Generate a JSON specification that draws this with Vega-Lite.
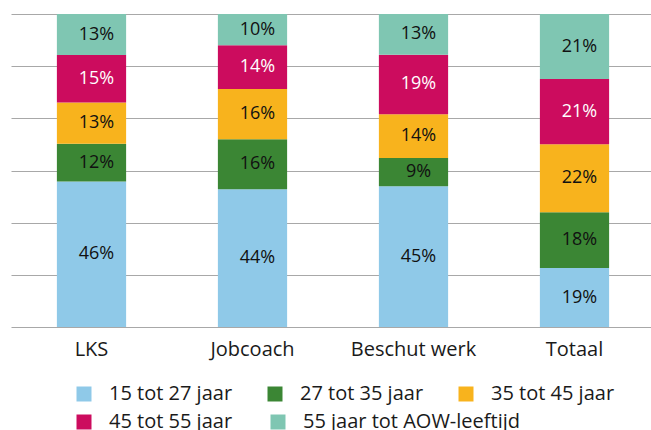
{
  "$schema": "https://vega.github.io/schema/vega-lite/v6.json",
  "width": 644,
  "height": 313,
  "autosize": {"type": "none"},
  "padding": {"left": 11, "top": 14, "right": 0, "bottom": 103},
  "config": {
    "view": {"stroke": null},
    "font": "Open Sans",
    "axis": {"labelFont": "Open Sans", "titleFont": "Open Sans"},
    "legend": {"labelFont": "Open Sans"}
  },
  "data": {
    "values": [
      {"cat": "LKS", "age": "15 tot 27 jaar", "k": 1, "value": 46},
      {"cat": "LKS", "age": "27 tot 35 jaar", "k": 2, "value": 12},
      {"cat": "LKS", "age": "35 tot 45 jaar", "k": 3, "value": 13},
      {"cat": "LKS", "age": "45 tot 55 jaar", "k": 4, "value": 15},
      {"cat": "LKS", "age": "55 jaar tot AOW-leeftijd", "k": 5, "value": 13},
      {"cat": "Jobcoach", "age": "15 tot 27 jaar", "k": 1, "value": 44},
      {"cat": "Jobcoach", "age": "27 tot 35 jaar", "k": 2, "value": 16},
      {"cat": "Jobcoach", "age": "35 tot 45 jaar", "k": 3, "value": 16},
      {"cat": "Jobcoach", "age": "45 tot 55 jaar", "k": 4, "value": 14},
      {"cat": "Jobcoach", "age": "55 jaar tot AOW-leeftijd", "k": 5, "value": 10},
      {"cat": "Beschut werk", "age": "15 tot 27 jaar", "k": 1, "value": 45},
      {"cat": "Beschut werk", "age": "27 tot 35 jaar", "k": 2, "value": 9},
      {"cat": "Beschut werk", "age": "35 tot 45 jaar", "k": 3, "value": 14},
      {"cat": "Beschut werk", "age": "45 tot 55 jaar", "k": 4, "value": 19},
      {"cat": "Beschut werk", "age": "55 jaar tot AOW-leeftijd", "k": 5, "value": 13},
      {"cat": "Totaal", "age": "15 tot 27 jaar", "k": 1, "value": 19},
      {"cat": "Totaal", "age": "27 tot 35 jaar", "k": 2, "value": 18},
      {"cat": "Totaal", "age": "35 tot 45 jaar", "k": 3, "value": 22},
      {"cat": "Totaal", "age": "45 tot 55 jaar", "k": 4, "value": 21},
      {"cat": "Totaal", "age": "55 jaar tot AOW-leeftijd", "k": 5, "value": 21}
    ]
  },
  "transform": [
    {"stack": "value", "groupby": ["cat"], "sort": [{"field": "k", "order": "ascending"}], "offset": "normalize", "as": ["v0", "v1"]},
    {"calculate": "(datum.v0 + datum.v1) / 2", "as": "mid"},
    {"calculate": "datum.value + '%'", "as": "label"}
  ],
  "encoding": {
    "x": {
      "field": "cat",
      "type": "nominal",
      "sort": ["LKS", "Jobcoach", "Beschut werk", "Totaal"],
      "scale": {"paddingInner": 0.57, "paddingOuter": 0.285},
      "axis": {
        "title": null,
        "labelAngle": 0,
        "domain": false,
        "ticks": false,
        "labelPadding": 12,
        "labelFontSize": 20,
        "labelColor": "#1a1a1a"
      }
    }
  },
  "layer": [
    {
      "transform": [{"filter": "datum.k <= 3"}],
      "mark": {"type": "bar"},
      "encoding": {
        "y": {
          "field": "v0",
          "type": "quantitative",
          "scale": {"domain": [0, 1], "nice": false},
          "axis": {
            "title": null,
            "labels": false,
            "ticks": false,
            "domain": false,
            "grid": true,
            "gridColor": "#a8a8a8",
            "gridWidth": 1.2,
            "values": [0, 0.1666667, 0.3333333, 0.5, 0.6666667, 0.8333333, 1]
          }
        },
        "y2": {"field": "v1"},
        "color": {
          "field": "age",
          "type": "nominal",
          "scale": {
            "domain": ["15 tot 27 jaar", "27 tot 35 jaar", "35 tot 45 jaar"],
            "range": ["#8fc9e8", "#3b8634", "#f8b31d"]
          },
          "legend": {
            "title": null,
            "orient": "none",
            "direction": "horizontal",
            "legendX": 63,
            "legendY": 370,
            "columns": 3,
            "columnPadding": 32,
            "padding": 0,
            "symbolType": "square",
            "symbolSize": 225,
            "symbolStrokeWidth": 0,
            "labelOffset": 15,
            "labelFontSize": 20,
            "labelColor": "#1a1a1a",
            "labelLimit": 300
          }
        }
      }
    },
    {
      "transform": [{"filter": "datum.k >= 4"}],
      "mark": {"type": "bar"},
      "encoding": {
        "y": {"field": "v0", "type": "quantitative"},
        "y2": {"field": "v1"},
        "fill": {
          "field": "age",
          "type": "nominal",
          "scale": {
            "domain": ["45 tot 55 jaar", "55 jaar tot AOW-leeftijd"],
            "range": ["#cc0c5e", "#7fc6b2"]
          },
          "legend": {
            "title": null,
            "orient": "none",
            "direction": "horizontal",
            "legendX": 63,
            "legendY": 398,
            "columns": 2,
            "columnPadding": 35,
            "padding": 0,
            "symbolType": "square",
            "symbolSize": 225,
            "symbolStrokeWidth": 0,
            "labelOffset": 15,
            "labelFontSize": 20,
            "labelColor": "#1a1a1a",
            "labelLimit": 300
          }
        }
      }
    },
    {
      "mark": {"type": "text", "dx": 5, "fontSize": 18, "baseline": "middle", "align": "center"},
      "encoding": {
        "y": {"field": "mid", "type": "quantitative"},
        "text": {"field": "label", "type": "nominal"},
        "color": {
          "condition": {"test": "datum.age === '45 tot 55 jaar'", "value": "#ffffff"},
          "value": "#111111"
        }
      }
    }
  ]
}
